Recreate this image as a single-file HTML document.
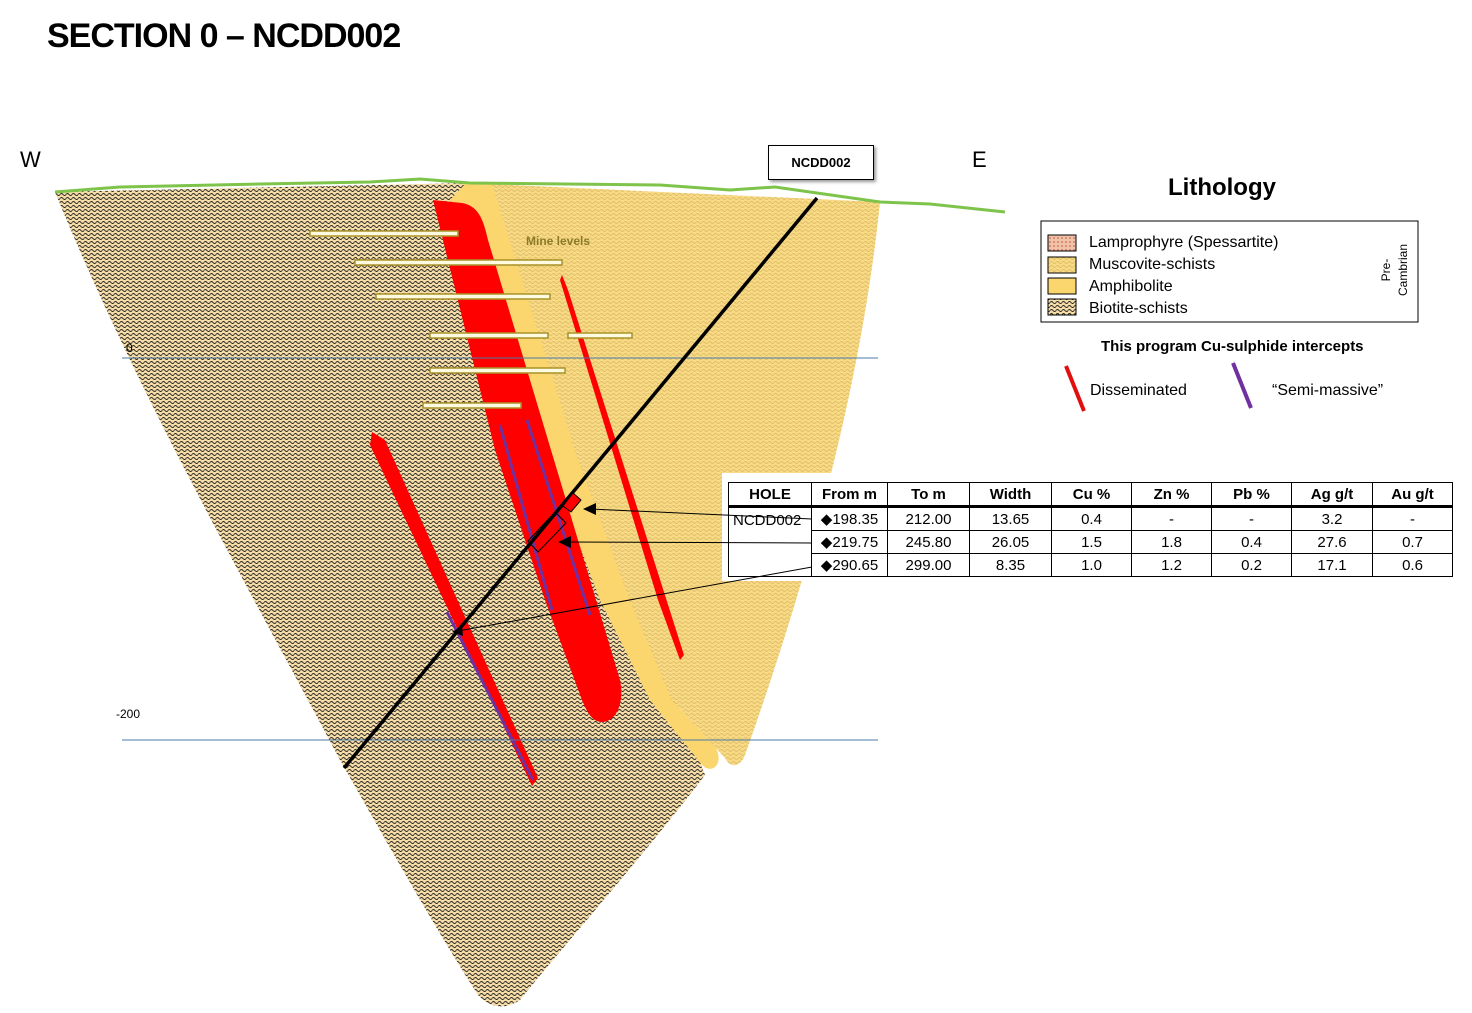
<!DOCTYPE html>
<html><head><meta charset="utf-8"><style>
body{margin:0;background:#fff;width:1472px;height:1013px;overflow:hidden;position:relative;font-family:"Liberation Sans",sans-serif}
.t{position:absolute;white-space:nowrap}
table{border-collapse:collapse;position:absolute;left:728px;top:482px;font-family:"Liberation Sans",sans-serif;font-size:15px}
td{border:1.5px solid #000;text-align:center;height:22px;padding:0}
tr.h td{font-weight:bold;border-bottom:3px solid #000;height:22px}
</style></head><body>
<svg width="1472" height="1013" style="position:absolute;left:0;top:0">
<defs>
<pattern id="bio" width="6" height="4" patternUnits="userSpaceOnUse">
<rect width="6" height="4" fill="#f5dba5"/>
<path d="M0,2.5 Q1.5,0.5 3,2.5 T6,2.5" stroke="#222" stroke-width="0.9" fill="none"/>
</pattern>
<pattern id="mus" width="6" height="4" patternUnits="userSpaceOnUse">
<rect width="6" height="4" fill="#f8da85"/>
<path d="M0,2.5 Q1.5,0.5 3,2.5 T6,2.5" stroke="#d9b660" stroke-width="0.7" fill="none"/>
</pattern>
<pattern id="lam" width="4" height="4" patternUnits="userSpaceOnUse">
<rect width="4" height="4" fill="#f0c2a8"/><circle cx="2" cy="2" r="0.8" fill="#c05040"/>
</pattern>
</defs>
<!-- biotite -->
<path d="M55,192 L470,183 L600,500 L705,775 C640,860 560,950 520,1000 C505,1010 490,1008 478,995 C430,920 380,830 340,760 C250,590 140,400 55,192Z" fill="url(#bio)"/>
<!-- muscovite -->
<path d="M490,184 L880,202 C860,400 800,600 745,755 C740,768 730,768 725,758 L672,700 L630,600 L575,450Z" fill="url(#mus)"/>
<!-- amphibolite band -->
<path d="M466,183 L492,184 L575,450 L630,600 L672,700 L716,748 C724,764 712,775 702,765 L650,700 L600,600 L450,200Z" fill="#fbd56d"/>
<!-- main red -->
<path d="M433,200 L462,203 C478,206 483,218 488,240 L620,680 C625,705 615,722 602,722 C592,722 587,712 582,700 L545,600 L495,450 Z" fill="#f00"/>
<path d="M562,275 L568,290 L684,655 L680,660 L658,600 L560,280Z" fill="#f00"/>
<path d="M372,432 L385,440 L538,778 L532,786 L370,445Z" fill="#f00"/>
<!-- purple -->
<line x1="500" y1="425" x2="552" y2="610" stroke="#7030a0" stroke-width="3"/>
<line x1="527" y1="420" x2="590" y2="615" stroke="#7030a0" stroke-width="3"/>
<line x1="447" y1="612" x2="533" y2="780" stroke="#7030a0" stroke-width="3"/>
<!-- ground -->
<polyline points="55,192 120,187 260,184 370,182 420,179 470,183 660,185 730,190 775,187 880,202 930,204 1005,212" fill="none" stroke="#7ec34a" stroke-width="3"/>
<!-- mine levels -->
<g fill="#fffbe0" stroke="#a89228" stroke-width="1.5">
<rect x="310" y="231" width="148" height="5"/>
<rect x="355" y="260" width="207" height="5"/>
<rect x="376" y="294" width="174" height="5"/>
<rect x="430" y="333" width="118" height="5"/>
<rect x="568" y="333" width="64" height="5"/>
<rect x="430" y="368" width="135" height="5"/>
<rect x="423" y="403" width="98" height="5"/>
</g>
<text x="526" y="245" font-family="Liberation Sans" font-size="12" font-weight="bold" fill="#8a7a2a">Mine levels</text>
<!-- blue lines -->
<line x1="122" y1="358" x2="878" y2="358" stroke="#4a7aa8" stroke-width="1"/>
<line x1="122" y1="740" x2="878" y2="740" stroke="#4a7aa8" stroke-width="1"/>
<text x="126" y="352" font-family="Liberation Sans" font-size="12">0</text>
<text x="116" y="718" font-family="Liberation Sans" font-size="12">-200</text>
<!-- drill hole -->
<line x1="817" y1="198" x2="344" y2="768" stroke="#000" stroke-width="3.5"/>
<!-- table bg -->
<rect x="722" y="473" width="732" height="108" fill="#fff"/>
<!-- intercept boxes -->
<path d="M563,506 L573,493 L581,500 L571,512Z" fill="#f00" stroke="#000" stroke-width="1"/>
<path d="M528,541 L555,512 L566,523 L538,552Z" fill="none" stroke="#000" stroke-width="1"/>
<!-- leaders -->
<line x1="812" y1="519" x2="590" y2="509" stroke="#000" stroke-width="1"/>
<polygon points="583,509 596,503 596,515" fill="#000"/>
<line x1="812" y1="543" x2="565" y2="542" stroke="#000" stroke-width="1"/>
<polygon points="558,542 571,536 571,548" fill="#000"/>
<line x1="812" y1="567" x2="458" y2="631" stroke="#000" stroke-width="1"/>
<polygon points="452,632 462,626 463,636" fill="#000"/>
<!-- legend -->
<rect x="1041" y="221" width="377" height="101" fill="#fff" stroke="#000" stroke-width="1"/>
<rect x="1048" y="235" width="28" height="16" fill="url(#lam)" stroke="#000"/>
<rect x="1048" y="257" width="28" height="16" fill="url(#mus)" stroke="#000"/>
<rect x="1048" y="278" width="28" height="16" fill="#fbd56d" stroke="#000"/>
<rect x="1048" y="299" width="28" height="16" fill="url(#bio)" stroke="#000"/>
<text x="1089" y="247" font-family="Liberation Sans" font-size="16">Lamprophyre (Spessartite)</text>
<text x="1089" y="269" font-family="Liberation Sans" font-size="16">Muscovite-schists</text>
<text x="1089" y="291" font-family="Liberation Sans" font-size="16">Amphibolite</text>
<text x="1089" y="313" font-family="Liberation Sans" font-size="16">Biotite-schists</text>
<text transform="translate(1390,270) rotate(-90)" font-family="Liberation Sans" font-size="12" text-anchor="middle">Pre-</text>
<text transform="translate(1407,270) rotate(-90)" font-family="Liberation Sans" font-size="12" text-anchor="middle">Cambrian</text>
<line x1="1066" y1="366" x2="1084" y2="411" stroke="#e01010" stroke-width="4"/>
<line x1="1233" y1="363" x2="1251" y2="408" stroke="#7030a0" stroke-width="4"/>
</svg>
<div class="t" style="left:47px;top:17px;font-size:34px;font-weight:bold;letter-spacing:-1px">SECTION 0 – NCDD002</div>
<div class="t" style="left:20px;top:147px;font-size:22px">W</div>
<div class="t" style="left:972px;top:147px;font-size:22px">E</div>
<div class="t" style="left:768px;top:145px;width:104px;height:33px;border:1.5px solid #000;box-shadow:2px 2px 3px #999;background:#fff;text-align:center;line-height:33px;font-size:13px;font-weight:bold">NCDD002</div>
<div class="t" style="left:1168px;top:174px;font-size:24px;font-weight:bold">Lithology</div>
<div class="t" style="left:1101px;top:338px;font-size:15px;font-weight:bold">This program Cu-sulphide intercepts</div>
<div class="t" style="left:1090px;top:382px;font-size:16px">Disseminated</div>
<div class="t" style="left:1272px;top:382px;font-size:16px">“Semi-massive”</div>
<table>
<tr class="h"><td style="width:82px">HOLE</td><td style="width:75px">From m</td><td style="width:81px">To m</td><td style="width:81px">Width</td><td style="width:79px">Cu %</td><td style="width:79px">Zn %</td><td style="width:79px">Pb %</td><td style="width:80px">Ag g/t</td><td style="width:79px">Au g/t</td></tr>
<tr><td rowspan="3" style="vertical-align:top;text-align:left;padding-left:4px;padding-top:4px">NCDD002</td><td>◆198.35</td><td>212.00</td><td>13.65</td><td>0.4</td><td>-</td><td>-</td><td>3.2</td><td>-</td></tr>
<tr><td>◆219.75</td><td>245.80</td><td>26.05</td><td>1.5</td><td>1.8</td><td>0.4</td><td>27.6</td><td>0.7</td></tr>
<tr><td>◆290.65</td><td>299.00</td><td>8.35</td><td>1.0</td><td>1.2</td><td>0.2</td><td>17.1</td><td>0.6</td></tr>
</table>
</body></html>
